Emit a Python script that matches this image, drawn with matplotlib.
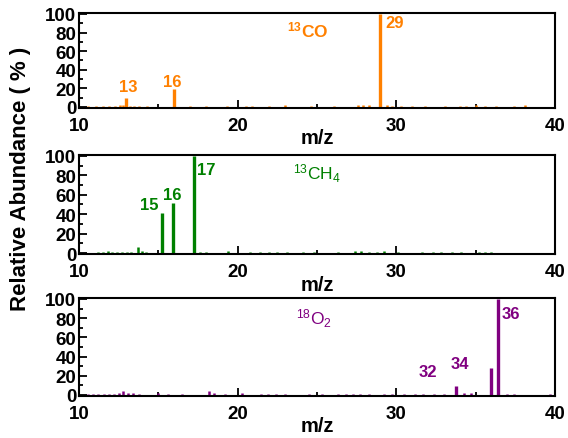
import matplotlib.pyplot as plt
from matplotlib.ticker import MultipleLocator

plt.rcParams['font.family'] = ['Liberation Sans', 'DejaVu Sans']
plt.rcParams['mathtext.fontset'] = 'custom'
plt.rcParams['mathtext.rm'] = 'Liberation Sans'
plt.rcParams['mathtext.bf'] = 'Liberation Sans:bold'

# main peaks (m/z, relative abundance %)
co_mz = [12.96, 15.97, 28.97]
co_ab = [10, 19, 100]
ch4_mz = [15.25, 15.9, 17.25]
ch4_ab = [41, 52, 100]
o2_mz = [33.75, 36.0, 36.42]
o2_ab = [9, 28, 100]

# baseline noise peaks
co_noise_mz = [10.6, 11.1, 11.5, 11.9, 12.3, 12.6, 12.8, 13.2, 13.5, 13.8, 14.3,
               17.0, 18.0, 19.3, 20.5, 20.9, 22.0, 23.0, 24.6, 26.1, 27.6, 27.9,
               28.3, 29.4, 29.7, 30.3, 31.0, 31.8, 33.1, 34.0, 34.4, 35.0, 35.6,
               36.3, 37.4, 38.1]
co_noise_ab = [1, 1, 1, 1, 1, 2, 2, 1, 1, 1, 1,
               1, 1, 1, 1, 1, 1, 2, 1, 1, 2, 2,
               2, 2, 1, 1, 1, 1, 1, 1, 1, 2, 1,
               1, 1, 2]
ch4_noise_mz = [11.2, 11.5, 11.8, 12.1, 12.4, 12.7, 13.0, 13.3, 13.7, 14.0, 14.2,
                17.6, 18.0, 19.4, 20.8, 21.4, 22.0, 22.5, 23.1, 24.1, 24.8, 26.3,
                27.4, 27.8, 28.3, 28.8, 29.2, 30.1, 31.6, 32.3, 32.8, 33.5, 34.1,
                35.2, 35.6, 36.0]
ch4_noise_ab = [1, 1, 2, 1, 1, 1, 1, 1, 6, 2, 1,
                1, 1, 2, 1, 1, 1, 1, 1, 1, 1, 1,
                2, 2, 1, 1, 2, 1, 1, 1, 1, 1, 1,
                1, 1, 1]
o2_noise_mz = [10.6, 10.9, 11.2, 11.6, 11.9, 12.2, 12.5, 12.8, 13.1, 13.4, 13.8,
               15.0, 15.6, 16.5, 18.2, 18.5, 19.2, 20.3, 21.5, 21.9, 22.4, 23.0,
               24.5, 25.3, 26.3, 26.8, 27.3, 27.7, 28.3, 29.2, 29.7, 30.5, 31.2,
               31.7, 32.4, 33.0, 34.3, 34.7, 37.0, 37.4, 39.7]
o2_noise_ab = [1, 1, 1, 1, 1, 1, 2, 4, 2, 2, 1,
               2, 1, 1, 4, 2, 1, 2, 1, 1, 1, 1,
               1, 1, 1, 1, 1, 1, 1, 1, 1, 1, 1,
               1, 1, 1, 2, 2, 1, 1, 1]

panels = [
    dict(mz=co_mz, ab=co_ab, nmz=co_noise_mz, nab=co_noise_ab, color='#ff8000',
         name=r'$\mathbf{^{13}CO}$', name_xy=(23.1, 76),
         labels=[('13', 12.55, 17), ('16', 15.3, 22), ('29', 29.3, 86)],
         rect=[0.139, 0.752, 0.838, 0.216]),
    dict(mz=ch4_mz, ab=ch4_ab, nmz=ch4_noise_mz, nab=ch4_noise_ab, color='#008000',
         name=r'$\mathregular{^{13}CH_4}$', name_xy=(23.5, 76),
         labels=[('15', 13.85, 45), ('16', 15.3, 56), ('17', 17.45, 81)],
         rect=[0.139, 0.419, 0.838, 0.226]),
    dict(mz=o2_mz, ab=o2_ab, nmz=o2_noise_mz, nab=o2_noise_ab, color='#800080',
         name=r'$\mathregular{^{18}O_2}$', name_xy=(23.7, 74),
         labels=[('32', 31.4, 20), ('34', 33.45, 28), ('36', 36.65, 80)],
         rect=[0.139, 0.096, 0.838, 0.223]),
]

fig = plt.figure(figsize=(5.68, 4.39), dpi=100)

for p in panels:
    ax = fig.add_axes(p['rect'])
    ax.vlines(p['nmz'], 0, p['nab'], color=p['color'], linewidth=1.8)
    ax.vlines(p['mz'], 0, p['ab'], color=p['color'], linewidth=2.4)
    for txt, x, y in p['labels']:
        ax.text(x, y, txt, color=p['color'], fontsize=12, fontweight='bold')
    ax.text(p['name_xy'][0], p['name_xy'][1], p['name'], color=p['color'], fontsize=12.5)
    ax.set_xlim(10, 40)
    ax.set_ylim(-1, 101)
    ax.xaxis.set_major_locator(MultipleLocator(10))
    ax.xaxis.set_minor_locator(MultipleLocator(5))
    ax.yaxis.set_major_locator(MultipleLocator(20))
    ax.yaxis.set_minor_locator(MultipleLocator(10))
    ax.tick_params(which='both', direction='in', width=1.3, labelsize=13.5)
    ax.tick_params(which='major', length=6)
    ax.tick_params(which='minor', length=3)
    ax.tick_params(axis='x', which='major', pad=6.5)
    ax.tick_params(axis='y', which='major', pad=2)
    for lab in ax.get_xticklabels() + ax.get_yticklabels():
        lab.set_fontweight('bold')
    for s in ax.spines.values():
        s.set_linewidth(1.5)
    ax.set_xlabel('m/z', fontsize=14.5, fontweight='bold', labelpad=-4)

fig.text(0.036, 0.592, 'Relative Abundance ( % )', rotation=90, fontsize=16,
         fontweight='bold', ha='center', va='center')

fig.savefig('out.png', dpi=100)
